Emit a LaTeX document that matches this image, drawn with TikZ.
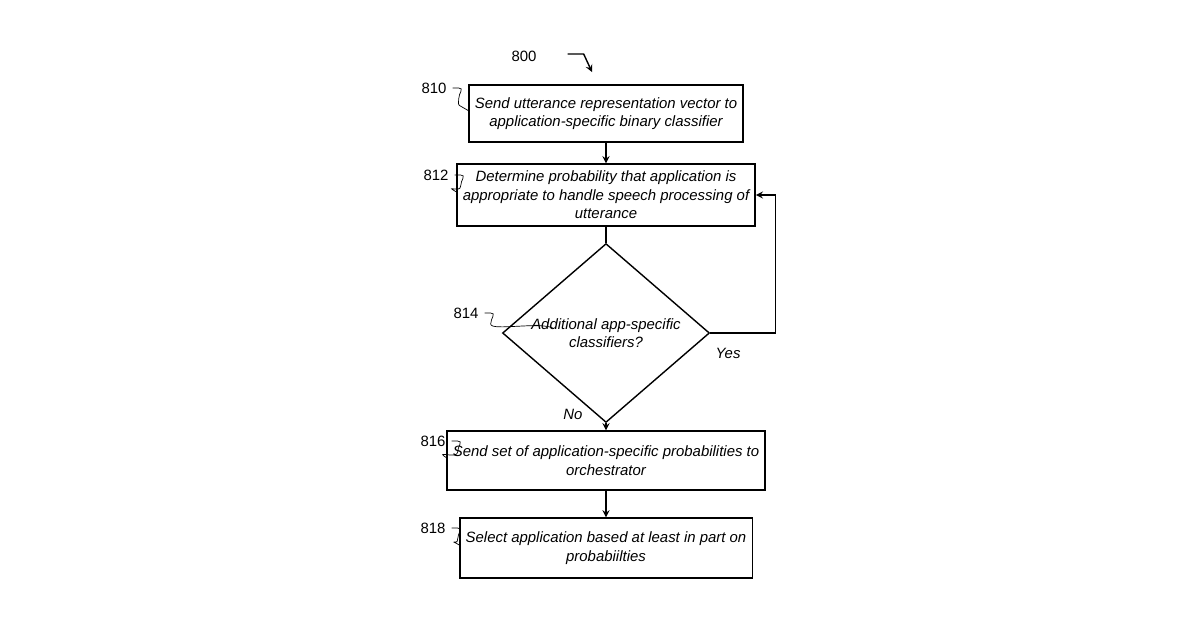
\documentclass[tikz,border=0pt]{standalone}
\usepackage{fontspec}
\setmainfont{Liberation Sans}
\usetikzlibrary{arrows,calc,shapes.geometric}
\begin{document}
\begin{tikzpicture}[>=stealth, font=\fontsize{8.5}{10.5}\selectfont]
			\tikzstyle{procbox} = [draw, thick, minimum width=5.34cm, align=center, font=\fontsize{8.5}{10.5}\selectfont\itshape]
			\tikzstyle{decide} = [draw, thick, diamond, minimum width=4.14cm, minimum height=3.1cm, inner sep=0pt, align=center, font=\fontsize{8.5}{10.5}\selectfont\itshape]
			\tikzstyle{squig} = [thin]
			\useasboundingbox (0,0) rectangle (24,-12.6);

			\node[procbox, minimum height=1.14cm] (b810) at (12.12,-2.27) {Send utterance representation vector to\\application-specific binary classifier};
			\node[procbox, minimum height=1.24cm] (b812) at (12.12,-3.9) {Determine probability that application is\\appropriate to handle speech processing of\\utterance};
			\node[decide] (d814) at (12.12,-6.66) {Additional app-specific\\classifiers?};
			\node[procbox, minimum height=1.18cm] (b816) at (12.12,-9.21) {Send set of application-specific probabilities to\\orchestrator};
			\node[procbox, minimum height=1.2cm] (b818) at (12.12,-10.96) {Select application based at least in part on\\probabiilties};

			% reference numerals
			\node (l800) at (10.48,-1.12) {800};
			\node (l810) at (8.68,-1.76) {810};
			\node (l812) at (8.72,-3.5) {812};
			\node (l814) at (9.32,-6.26) {814};
			\node (l816) at (8.66,-8.82) {816};
			\node (l818) at (8.66,-10.56) {818};
			\node[font=\fontsize{8.5}{10.5}\selectfont\itshape] (yes) at (14.56,-7.06) {Yes};
			\node[font=\fontsize{8.5}{10.5}\selectfont\itshape] (no) at (11.46,-8.28) {No};
			\coordinate (c800) at (11.84,-1.44);

			\draw[thick, ->] (l800.east) ++(0.5,0.04) -- ++(0.32,0) -- (c800);
			\foreach \l/\b in {l810/b810, l812/b812, l814/d814, l816/b816, l818/b818}
				\draw[squig] (\l.east) -- ++(0.12,0) .. controls +(0.12,0) and +(0,0.12) .. ++(0,-0.22)
					.. controls +(0,-0.15) and +(-0.25,0.15) .. ($(\b.north west)!0.45!(\b.south west)$);

			\draw[thick, ->] (b810) -- (b812);
			\draw[thick] (b812) -- (d814);
			\draw[thick, ->] (d814) -- (b816);
			\draw[thick, ->] (b816) -- (b818);
			\draw[thick, ->] (d814.east) -- ++(1.3,0) |- (b812.east);
\end{tikzpicture}
\end{document}
